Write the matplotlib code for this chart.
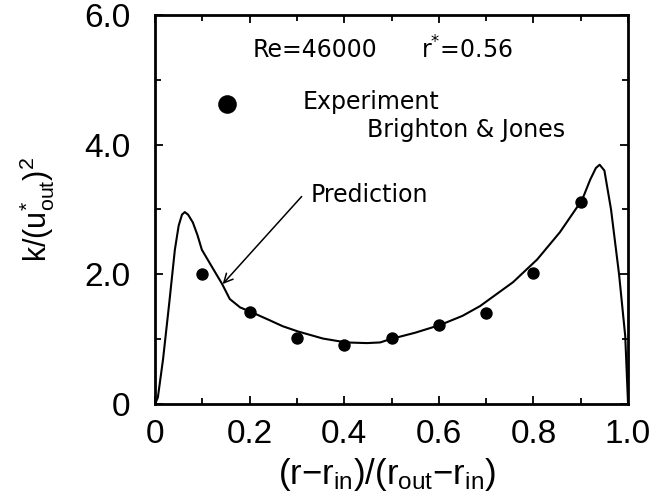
import numpy as np
import matplotlib.pyplot as plt
from matplotlib.ticker import MultipleLocator

# experiment, Brighton & Jones
x_exp = [0.1, 0.2, 0.3, 0.4, 0.5, 0.6, 0.7, 0.8, 0.9]
k_exp = [2.0, 1.42, 1.02, 0.91, 1.02, 1.22, 1.41, 2.02, 3.12]

# prediction
x_pred = [0.0, 0.006, 0.017, 0.03, 0.042, 0.05, 0.057, 0.063, 0.07, 0.08,
          0.09, 0.099, 0.12, 0.142, 0.158, 0.18, 0.203, 0.24, 0.27, 0.302,
          0.355, 0.404, 0.448, 0.476, 0.497, 0.55, 0.603, 0.65, 0.687, 0.757,
          0.808, 0.856, 0.903, 0.92, 0.932, 0.94, 0.95, 0.964, 0.981, 0.994, 1.0]
k_pred = [0.0, 0.1, 0.69, 1.55, 2.38, 2.75, 2.92, 2.96, 2.92, 2.8,
          2.6, 2.38, 2.12, 1.85, 1.62, 1.49, 1.42, 1.3, 1.2, 1.12,
          1.01, 0.95, 0.94, 0.95, 1.0, 1.1, 1.22, 1.36, 1.51, 1.88,
          2.23, 2.65, 3.15, 3.46, 3.64, 3.69, 3.6, 3.0, 2.0, 1.05, 0.0]

x_ticks = [0, 0.2, 0.4, 0.6, 0.8, 1.0]
x_ticklabels = ['0', '0.2', '0.4', '0.6', '0.8', '1.0']
y_ticks = [0, 2, 4, 6]
y_ticklabels = ['0', '2.0', '4.0', '6.0']

plt.rcParams['font.family'] = ['Liberation Sans', 'DejaVu Sans']
plt.rcParams['mathtext.fontset'] = 'custom'
plt.rcParams['mathtext.rm'] = 'Liberation Sans'
plt.rcParams['mathtext.it'] = 'Liberation Sans'

fig = plt.figure(figsize=(6.71, 4.97), dpi=100)
ax = fig.add_axes([0.231, 0.187, 0.705, 0.783])

ax.plot(x_pred, k_pred, color='black', lw=1.5)
ax.scatter(x_exp, k_exp, s=80, color='black', zorder=3, linewidths=0)

# legend entries drawn by hand
tfont = dict(family='DejaVu Sans', fontsize=17, va='center')
ax.scatter([0.152], [4.63], s=180, color='black', linewidths=0)
ax.text(0.313, 4.66, 'Experiment', **tfont)
ax.text(0.448, 4.23, 'Brighton & Jones', **tfont)
ax.text(0.207, 5.46, 'Re=46000', **tfont)
ax.text(0.562, 5.46, r'r$^{*}$=0.56', family='DejaVu Sans', fontsize=17,
        va='center', math_fontfamily='dejavusans')

ax.text(0.328, 3.23, 'Prediction', **tfont)
ax.annotate('', xy=(0.143, 1.85), xytext=(0.31, 3.2),
            arrowprops=dict(arrowstyle='->', color='black', lw=1.1,
                            shrinkA=0, shrinkB=0, mutation_scale=16))

ax.set_xlim(0, 1.0)
ax.set_ylim(0, 6.0)
ax.set_xticks(x_ticks)
ax.set_xticklabels(x_ticklabels)
ax.set_yticks(y_ticks)
ax.set_yticklabels(y_ticklabels)
ax.xaxis.set_minor_locator(MultipleLocator(0.1))
ax.yaxis.set_minor_locator(MultipleLocator(1.0))
ax.tick_params(which='both', direction='in', top=True, right=True,
               labelsize=24, width=1.3)
ax.tick_params(axis='x', pad=11)
ax.tick_params(axis='y', pad=18)
ax.tick_params(which='major', length=6)
ax.tick_params(which='minor', length=4.5)
for s in ax.spines.values():
    s.set_linewidth(2.0)

ax.set_xlabel(r'(r$-$r$_{\rm in}$)/(r$_{\rm out}$$-$r$_{\rm in}$)', fontsize=25)
ax.xaxis.set_label_coords(0.49, -0.18)
ax.xaxis.label.set_va('center')
ax.set_ylabel(r'k/(u$^{*}_{\rm out}$)$^{2}$', fontsize=22)
ax.yaxis.set_label_coords(-0.25, 0.5)
ax.yaxis.label.set_va('center')

fig.savefig('out.png', dpi=100)
